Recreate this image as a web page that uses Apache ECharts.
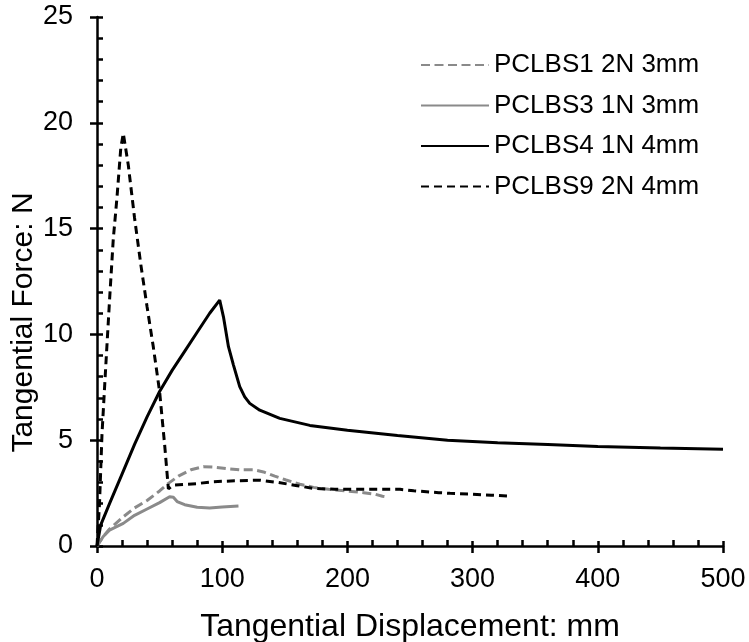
<!DOCTYPE html>
<html>
<head>
<meta charset="utf-8">
<script src="https://cdn.jsdelivr.net/npm/echarts@6/dist/echarts.min.js"></script>
<style>
html,body{margin:0;padding:0;background:#fff;}
#chart{width:749px;height:642px;}
</style>
</head>
<body>
<div id="chart"></div>
<script>
// Series names
const seriesNames = ['PCLBS1 2N 3mm', 'PCLBS3 1N 3mm', 'PCLBS4 1N 4mm', 'PCLBS9 2N 4mm'];

// PCLBS1 2N 3mm (grey dashed)
const s1x = [0, 5, 10, 21, 30, 40, 50, 57, 65, 75, 85, 95, 105, 115, 125, 133, 142, 151, 162, 173, 185, 200, 213, 222, 228, 233];
const s1y = [0, 0.45, 0.8, 1.38, 1.8, 2.15, 2.6, 2.96, 3.3, 3.6, 3.75, 3.72, 3.65, 3.6, 3.6, 3.5, 3.3, 3.12, 2.92, 2.77, 2.68, 2.6, 2.52, 2.45, 2.35, 2.3];

// PCLBS3 1N 3mm (grey solid)
const s3x = [0, 5, 10, 21, 30, 40, 50, 58, 61, 64, 70, 80, 90, 100, 113];
const s3y = [0, 0.45, 0.75, 1.07, 1.45, 1.75, 2.05, 2.33, 2.3, 2.1, 1.95, 1.83, 1.8, 1.84, 1.89];

// PCLBS4 1N 4mm (black solid)
const s4x = [0, 3, 10, 20, 30, 40, 50, 60, 70, 80, 90, 98, 101, 105, 109, 114, 118, 122, 130, 146, 170, 200, 240, 280, 320, 360, 400, 450, 500];
const s4y = [0, 1.0, 2.0, 3.4, 4.8, 6.1, 7.3, 8.3, 9.2, 10.1, 11.0, 11.62, 10.83, 9.42, 8.55, 7.53, 7.05, 6.74, 6.42, 6.03, 5.7, 5.47, 5.22, 5.0, 4.88, 4.8, 4.7, 4.63, 4.57];

// PCLBS9 2N 4mm (black dashed)
const s9x = [0, 2, 4, 7, 10, 13, 16, 19, 21, 25, 30, 35, 40, 45, 50, 54, 57, 61, 80, 93, 110, 130, 145, 160, 173, 190, 213, 242, 253, 273, 282, 300, 315, 328];
const s9y = [0, 2, 5.3, 8.5, 11.6, 14.5, 16.5, 18.8, 19.5, 18.0, 15.5, 13.3, 11.3, 9.4, 7.3, 4.8, 2.7, 2.88, 2.95, 3.04, 3.08, 3.11, 3.0, 2.85, 2.72, 2.68, 2.68, 2.68, 2.61, 2.52, 2.49, 2.45, 2.4, 2.36];

// Axis ticks
const xMin = 0, xMax = 500, xStep = 100;
const yMin = 0, yMax = 25, yStep = 5;

function pairs(xs, ys) { return xs.map((x, i) => [x, ys[i]]); }

const grey = '#8a8a8a';
const black = '#000000';
const font = 'Liberation Sans, Arial, sans-serif';

const chart = echarts.init(document.getElementById('chart'), null, {renderer: 'canvas'});

const baseX = {
  type: 'value', min: xMin, max: xMax, interval: xStep, gridIndex: 0, position: 'bottom',
  splitLine: {show: false}
};
const baseY = {
  type: 'value', min: yMin, max: yMax, interval: yStep, gridIndex: 0, position: 'left',
  splitLine: {show: false}
};

chart.setOption({
  animation: false,
  backgroundColor: '#ffffff',
  grid: {left: 97, right: 26, top: 17, bottom: 96, containLabel: false, outerBoundsMode: 'none'},
  legend: {
    data: seriesNames,
    orient: 'vertical',
    left: 420, top: 52, padding: 0,
    itemWidth: 68, itemHeight: 14, itemGap: 14.5,
    itemStyle: {opacity: 0},
    lineStyle: {opacity: 1},
    textStyle: {fontFamily: font, fontSize: 26, color: '#000'}
  },
  xAxis: [
    Object.assign({}, baseX, {
      name: 'Tangential Displacement: mm', nameLocation: 'middle', nameGap: 65, nameMoveOverlap: false,
      nameTextStyle: {fontFamily: font, fontSize: 32, color: '#000'},
      axisLine: {show: true, lineStyle: {color: '#000', width: 2.5}},
      axisTick: {show: true, inside: true, length: 5, lineStyle: {color: '#000', width: 2.5}},
      minorTick: {show: true, splitNumber: 5, length: 6, lineStyle: {color: '#000', width: 2.5}},
      axisLabel: {fontFamily: font, fontSize: 27, color: '#000', margin: 20}
    }),
    Object.assign({}, baseX, {
      axisLine: {show: false},
      axisTick: {show: true, inside: false, length: 7, lineStyle: {color: '#000', width: 2.5}},
      axisLabel: {show: false}
    })
  ],
  yAxis: [
    Object.assign({}, baseY, {
      name: 'Tangential Force: N', nameLocation: 'middle', nameGap: 58, nameMoveOverlap: false,
      nameTextStyle: {fontFamily: font, fontSize: 30, color: '#000', padding: [0, 82, 0, 0]},
      axisLine: {show: true, lineStyle: {color: '#000', width: 2.5}},
      axisTick: {show: true, inside: true, length: 6, lineStyle: {color: '#000', width: 2.5}},
      minorTick: {show: true, splitNumber: 5, length: 6, lineStyle: {color: '#000', width: 2.5}},
      axisLabel: {fontFamily: font, fontSize: 27, color: '#000', margin: 24}
    }),
    Object.assign({}, baseY, {
      axisLine: {show: false},
      axisTick: {show: true, inside: false, length: 7, lineStyle: {color: '#000', width: 2.5}},
      axisLabel: {show: false}
    })
  ],
  series: [
    {name: seriesNames[0], type: 'line', xAxisIndex: 0, yAxisIndex: 0, symbol: 'none',
     data: pairs(s1x, s1y), color: grey,
     lineStyle: {color: grey, width: 3, type: [9, 4.5]}},
    {name: seriesNames[1], type: 'line', xAxisIndex: 0, yAxisIndex: 0, symbol: 'none',
     data: pairs(s3x, s3y), color: grey,
     lineStyle: {color: grey, width: 3, type: 'solid'}},
    {name: seriesNames[2], type: 'line', xAxisIndex: 0, yAxisIndex: 0, symbol: 'none',
     data: pairs(s4x, s4y), color: black,
     lineStyle: {color: black, width: 3, type: 'solid'}},
    {name: seriesNames[3], type: 'line', xAxisIndex: 0, yAxisIndex: 0, symbol: 'none',
     data: pairs(s9x, s9y), color: black,
     lineStyle: {color: black, width: 3, type: [8, 5]}}
  ]
});
</script>
</body>
</html>
